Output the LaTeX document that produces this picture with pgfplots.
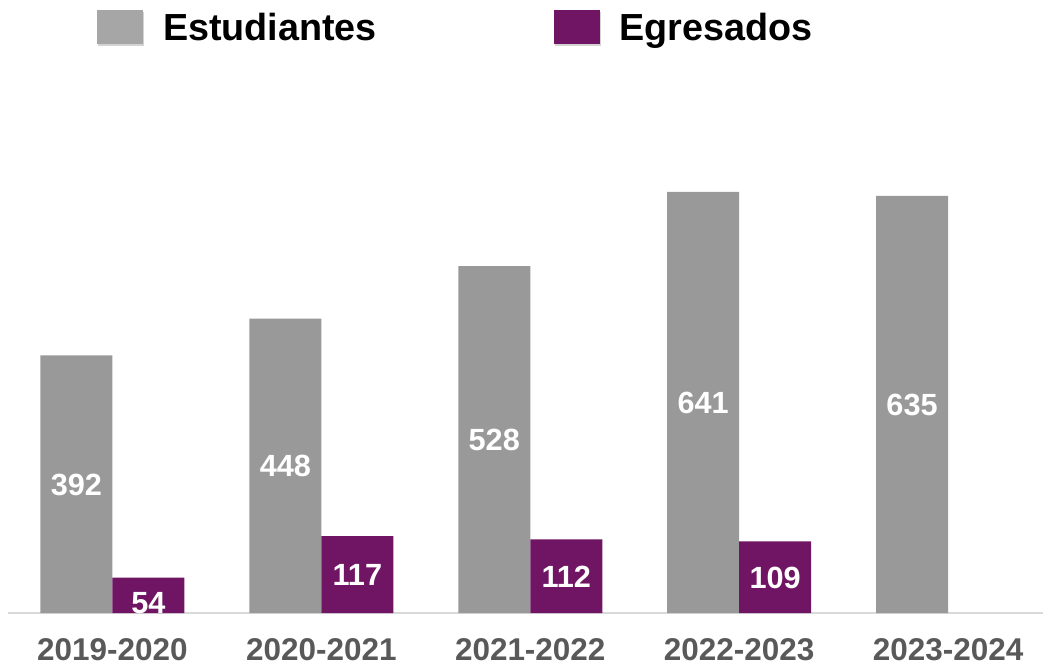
\documentclass[border=0pt]{standalone}
\usepackage{fontspec}
\setmainfont{Liberation Sans}
\usepackage{pgfplots}
\pgfplotsset{compat=1.18}
\usetikzlibrary{shadows}
\definecolor{barGray}{HTML}{999999}
\definecolor{legGray}{HTML}{A6A6A6}
\definecolor{barPurple}{HTML}{701563}
\definecolor{tickGray}{HTML}{595959}
\definecolor{axGray}{HTML}{D9D9D9}
\begin{document}
\begin{tikzpicture}
\begin{axis}[name=ax, scale only axis, width=776.25pt, height=344.9pt,
  xmin=-0.5, xmax=4.4545, ymin=0, ymax=700,
  axis x line*=bottom, axis y line=none,
  x axis line style={draw=axGray, line width=1.5pt, -},
  xtick={0,1,2,3,4},
  xticklabels={2019-2020,2020-2021,2021-2022,2022-2023,2023-2024},
  major tick length=0pt,
  xticklabel style={anchor=base, yshift=-35.25pt, font=\fontsize{23.6}{25}\selectfont\bfseries, text=tickGray},
  clip=false,
  legend columns=2,
  legend style={at={(axis description cs:0,0)}, anchor=north west, xshift=66.75pt, yshift=452.25pt,
    draw=none, fill=none, inner sep=0pt, outer sep=0pt,
    font=\fontsize{28.3}{30}\selectfont\bfseries, cells={anchor=west},
    nodes={inner sep=0pt, text height=20.2pt, text depth=0pt},
    /tikz/every odd column/.append style={column sep=15pt},
    /tikz/every even column/.append style={column sep=132.5pt}},
]
\addplot[ybar, bar width=54pt, bar shift=-27pt, fill=barGray, draw=none,
  legend image code/.code={\fill[legGray, drop shadow={shadow xshift=1pt, shadow yshift=-1.5pt, opacity=0.35}] (0pt,-12.75pt) rectangle (34.5pt,12.75pt);}]
  coordinates {(0,392) (1,448) (2,528) (3,641) (4,635)};
\addplot[ybar, bar width=54pt, bar shift=27pt, fill=barPurple, draw=none,
  legend image code/.code={\fill[barPurple, drop shadow={shadow xshift=1pt, shadow yshift=-1.5pt, opacity=0.35}] (0pt,-12.75pt) rectangle (34.5pt,12.75pt);}]
  coordinates {(0,54) (1,117) (2,112) (3,109)};
\legend{Estudiantes, Egresados}
\addplot[draw=none, forget plot, nodes near coords, point meta=explicit symbolic,
  every node near coord/.style={anchor=center, text=white, font=\fontsize{23}{24}\selectfont\bfseries, inner sep=0pt, text height=16.5pt, text depth=0pt}]
  coordinates {(-0.17225,196)[392] (0.82775,224)[448] (1.82775,264)[528] (2.82775,320.5)[641] (3.82775,317.5)[635]
               (0.17225,16)[54] (1.17225,58.5)[117] (2.17225,56)[112] (3.17225,54.5)[109]};
\end{axis}
\pgfresetboundingbox
\path[use as bounding box] ([xshift=-6pt,yshift=-39pt]ax.south west) rectangle ++(782.25pt,498.75pt);
\end{tikzpicture}
\end{document}
